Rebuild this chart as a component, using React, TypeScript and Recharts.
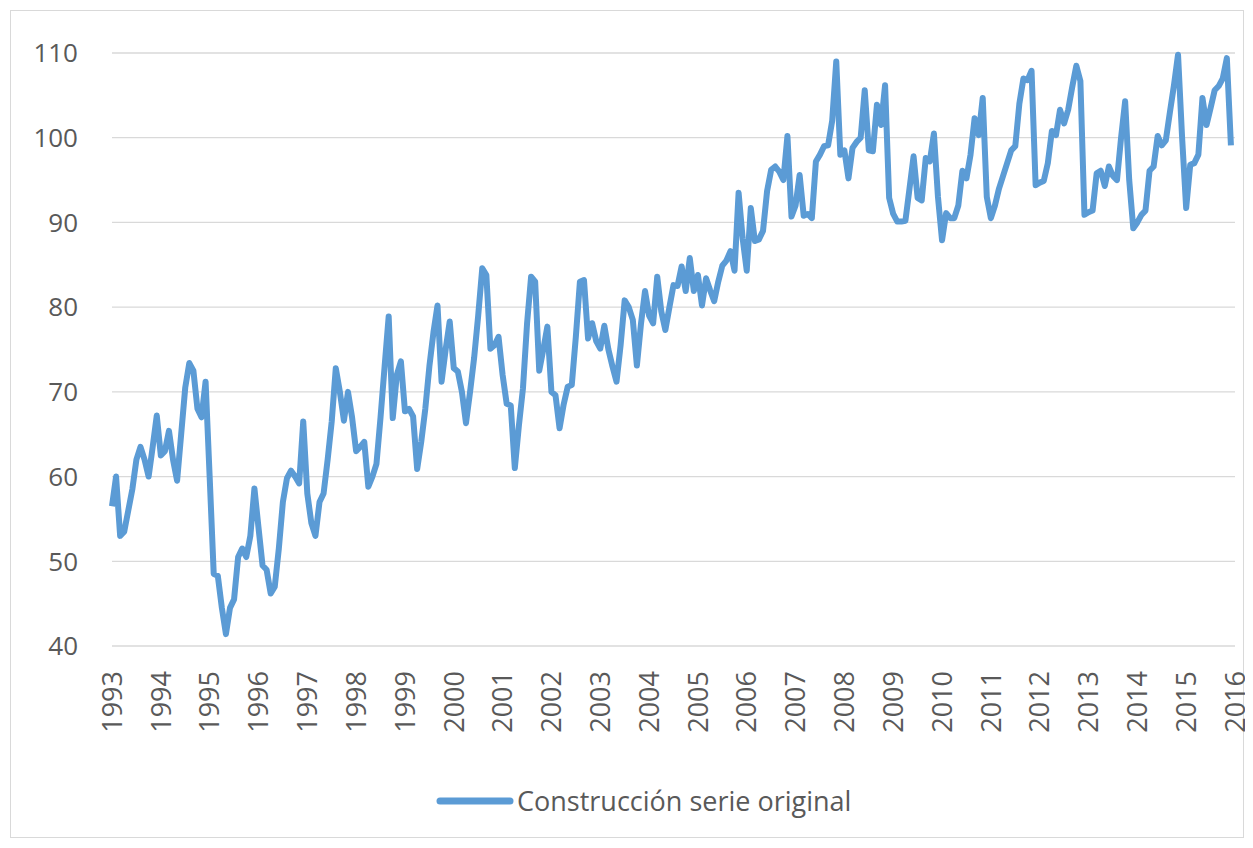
import React from "react";
import { LineChart, Line, XAxis, YAxis, CartesianGrid, Legend } from "recharts";

const startYear = 1993;
const yearTicks = [0, 12, 24, 36, 48, 60, 72, 84, 96, 108, 120, 132, 144, 156, 168, 180, 192, 204, 216, 228, 240, 252, 264, 276];
const yTicks = [40, 50, 60, 70, 80, 90, 100, 110];
const seriesName = "Construcción serie original";

const serieOriginal = [
  56.5, 60.0, 53.0, 53.5, 56.0, 58.5, 62.0, 63.5, 62.0, 60.0, 63.5, 67.2,
  62.5, 63.0, 65.4, 62.0, 59.5, 65.0, 70.5, 73.4, 72.5, 68.0, 67.0, 71.2,
  60.0, 48.5, 48.3, 44.5, 41.4, 44.5, 45.5, 50.5, 51.5, 50.5, 53.0, 58.6,
  54.0, 49.5, 49.0, 46.2, 47.0, 51.5, 57.0, 59.8, 60.7, 60.0, 59.2, 66.5,
  58.0, 54.5, 53.0, 57.0, 58.0, 62.0, 66.5, 72.8, 70.0, 66.6, 70.0, 67.0,
  63.0, 63.5, 64.1, 58.8, 60.0, 61.5, 67.0, 73.0, 78.9, 66.9, 72.0, 73.6,
  67.7, 68.0, 67.1, 60.9, 64.1, 68.0, 73.0, 77.0, 80.2, 71.2, 75.0, 78.3,
  72.8, 72.4, 70.0, 66.3, 70.0, 74.0, 79.0, 84.6, 83.8, 75.1, 75.5, 76.5,
  72.0, 68.6, 68.4, 61.0, 66.0, 70.4, 78.0, 83.6, 83.0, 72.5, 75.0, 77.7,
  70.0, 69.6, 65.7, 68.5, 70.6, 70.8, 76.5, 83.0, 83.2, 76.3, 78.1, 76.0,
  75.1, 77.8, 75.0, 73.0, 71.2, 75.5, 80.8, 80.0, 78.5, 73.1, 78.0, 81.9,
  79.0, 78.1, 83.6, 79.5, 77.3, 80.0, 82.6, 82.5, 84.8, 81.9, 85.8, 81.9,
  83.8, 80.2, 83.4, 82.0, 80.7, 83.0, 84.9, 85.5, 86.6, 84.3, 93.5, 88.1,
  84.3, 91.7, 87.8, 88.0, 89.0, 93.7, 96.2, 96.6, 96.0, 95.0, 100.2, 90.7,
  92.0, 95.6, 90.8, 91.0, 90.5, 97.2, 98.0, 99.0, 99.1, 102.0, 109.0, 98.0,
  98.5, 95.2, 98.8, 99.5, 100.0, 105.6, 98.5, 98.4, 103.9, 101.5, 106.2, 92.9,
  91.0, 90.1, 90.1, 90.2, 94.0, 97.8, 92.9, 92.6, 97.6, 97.2, 100.5, 93.0,
  87.9, 91.1, 90.5, 90.5, 92.0, 96.1, 95.2, 98.0, 102.3, 100.3, 104.7, 93.0,
  90.5, 92.0, 94.0, 95.5, 97.0, 98.5, 99.0, 104.0, 107.0, 106.8, 107.9, 94.4,
  94.7, 94.9, 97.0, 100.8, 100.3, 103.3, 101.7, 103.3, 106.0, 108.5, 106.7, 90.9,
  91.2, 91.4, 95.8, 96.1, 94.3, 96.6, 95.5, 95.0, 100.0, 104.3, 95.0, 89.3,
  90.0, 90.9, 91.4, 96.1, 96.6, 100.2, 99.1, 99.7, 103.0, 106.2, 109.8, 100.0,
  91.7, 96.8, 97.0, 98.0, 104.7, 101.5, 103.5, 105.6, 106.1, 107.0, 109.4, 99.1,
];

const data = serieOriginal.map((v, i) => ({ t: i, value: v }));

const FONT = "'Open Sans', sans-serif";
const TEXT = "#595959";
const BLUE = "#5B9BD5";
const GRID = "#D9D9D9";

const XTick = (props: any) => {
  const { x, y, payload } = props;
  const label = String(startYear + Math.round(payload.value / 12));
  return (
    <g transform={`translate(${x},${y})`}>
      <text
        transform="rotate(-90)"
        x={-25}
        y={0}
        dy="0.36em"
        textAnchor="end"
        fill={TEXT}
        fontSize={27}
        fontFamily={FONT}
      >
        {label}
      </text>
    </g>
  );
};

const LegendContent = () => (
  <div style={{ position: "relative", height: 80, width: 1245 }}>
    <svg style={{ position: "absolute", left: 428, top: 36 }} width={78} height={10}>
      <line x1={4} y1={5} x2={74} y2={5} stroke={BLUE} strokeWidth={7} strokeLinecap="round" />
    </svg>
    <span
      style={{
        position: "absolute",
        left: 509,
        top: 40,
        transform: "translateY(-50%)",
        fontFamily: FONT,
        fontSize: 27,
        color: TEXT,
        whiteSpace: "nowrap",
        lineHeight: 1,
      }}
    >
      {seriesName}
    </span>
  </div>
);

export default function App() {
  return (
    <div style={{ position: "relative", width: 1245, height: 832, background: "#fff" }}>
      <div
        style={{
          position: "absolute",
          left: 2,
          top: 2,
          width: 1232,
          height: 826,
          border: `1px solid ${GRID}`,
          pointerEvents: "none",
        }}
      />
      <LineChart
        width={1245}
        height={832}
        data={data}
        margin={{ top: 45, right: 18, bottom: 0, left: 0 }}
      >
        <CartesianGrid horizontal vertical={false} stroke={GRID} strokeWidth={1.3} />
        <XAxis
          dataKey="t"
          type="number"
          domain={[0, 276]}
          ticks={yearTicks}
          interval={0}
          tick={<XTick />}
          tickLine={false}
          axisLine={false}
          tickSize={0}
          tickMargin={0}
          height={114}
        />
        <YAxis
          domain={[40, 110]}
          ticks={yTicks}
          interval={0}
          tickLine={false}
          axisLine={false}
          tickSize={0}
          tickMargin={34}
          width={104}
          tick={{ fill: TEXT, fontSize: 26, fontFamily: FONT }}
        />
        <Legend
          verticalAlign="bottom"
          height={80}
          wrapperStyle={{ left: 0, width: 1245 }}
          content={() => <LegendContent />}
        />
        <Line
          type="linear"
          dataKey="value"
          name={seriesName}
          stroke={BLUE}
          strokeWidth={6}
          strokeLinejoin="round"
          dot={false}
          activeDot={false}
          isAnimationActive={false}
        />
      </LineChart>
    </div>
  );
}
